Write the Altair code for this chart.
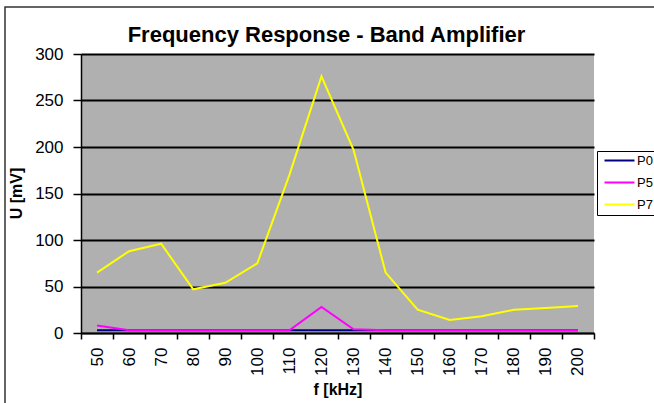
import altair as alt
import pandas as pd

freqs = [50, 60, 70, 80, 90, 100, 110, 120, 130, 140, 150, 160, 170, 180, 190, 200]
p0 = [3, 3, 3, 3, 3, 3, 3, 3, 3, 3, 3, 3, 3, 3, 3, 3]
p5 = [8, 3, 3, 3, 3, 3, 3, 28, 4, 3, 3, 3, 3, 3, 3, 3]
p7 = [65, 88, 96, 47, 54, 75, 170, 276, 197, 65, 25, 14, 18, 25, 27, 29]
series_names = ["P0", "P5", "P7"]
series_colors = ["#000080", "#FF00FF", "#FFFF00"]
y_ticks = [0, 50, 100, 150, 200, 250, 300]

rows = []
for name, vals in zip(series_names, [p0, p5, p7]):
    for f, v in zip(freqs, vals):
        rows.append({"f": f, "U": v, "series": name})
df = pd.DataFrame(rows)

FONT = "Liberation Sans"

lines = alt.Chart(df).mark_line(strokeWidth=2).encode(
    x=alt.X(
        "f:O",
        bandPosition=0.5,
        scale=alt.Scale(type="band", paddingInner=0, paddingOuter=0),
        axis=alt.Axis(
            tickBand="extent",
            tickSize=6,
            tickColor="black",
            tickWidth=1.5,
            domainColor="black",
            domainWidth=1.5,
            labelAngle=270,
            labelFont=FONT,
            labelFontSize=17,
            labelColor="black",
            labelPadding=8,
            title="f [kHz]",
            titleFont=FONT,
            titleFontSize=16,
            titleFontWeight="bold",
            titleColor="black",
            titlePadding=6,
        ),
    ),
    y=alt.Y(
        "U:Q",
        scale=alt.Scale(domain=[0, 300], nice=False),
        axis=alt.Axis(
            values=y_ticks,
            grid=True,
            gridColor="black",
            gridWidth=1.8,
            gridOpacity=1,
            domainColor="black",
            domainWidth=1.5,
            tickColor="black",
            tickSize=8,
            tickWidth=1.5,
            labelFont=FONT,
            labelFontSize=17,
            labelColor="black",
            labelPadding=10,
            title="U [mV]",
            titleFont=FONT,
            titleFontSize=16,
            titleFontWeight="bold",
            titleColor="black",
            titleX=-57,
            titleY=139,
        ),
    ),
    color=alt.Color(
        "series:N",
        scale=alt.Scale(domain=series_names, range=series_colors),
        legend=alt.Legend(
            title=None,
            orient="none",
            legendX=516,
            legendY=97,
            strokeColor="black",
            fillColor="white",
            padding=3,
            rowPadding=8,
            symbolType="M-3,0H3",
            symbolSize=100,
            symbolStrokeWidth=2,
            symbolOffset=13,
            labelFont=FONT,
            labelFontSize=13,
            labelColor="black",
            labelOffset=11,
        ),
    ),
)

frame = alt.Chart(pd.DataFrame({"a": [0]})).mark_rect(
    fill="transparent", stroke="#333333", strokeWidth=1.5
).encode(
    x=alt.value(-76), x2=alt.value(600), y=alt.value(-47), y2=alt.value(400)
)

chart = (
    alt.layer(frame, lines)
    .properties(
        width=513,
        height=279,
        autosize=alt.AutoSizeParams(type="none"),
        padding={"left": 81, "top": 54, "right": 60, "bottom": 70},
        background="white",
        title=alt.TitleParams(
            "Frequency Response - Band Amplifier",
            font=FONT,
            fontSize=22,
            fontWeight="bold",
            color="black",
            anchor="middle",
            dx=-11,
            dy=45,
            offset=4,
        ),
    )
    .configure_view(fill="#B0B0B0", strokeWidth=0)
)

chart.save("out.html", embed_options={"renderer": "svg", "actions": False})
